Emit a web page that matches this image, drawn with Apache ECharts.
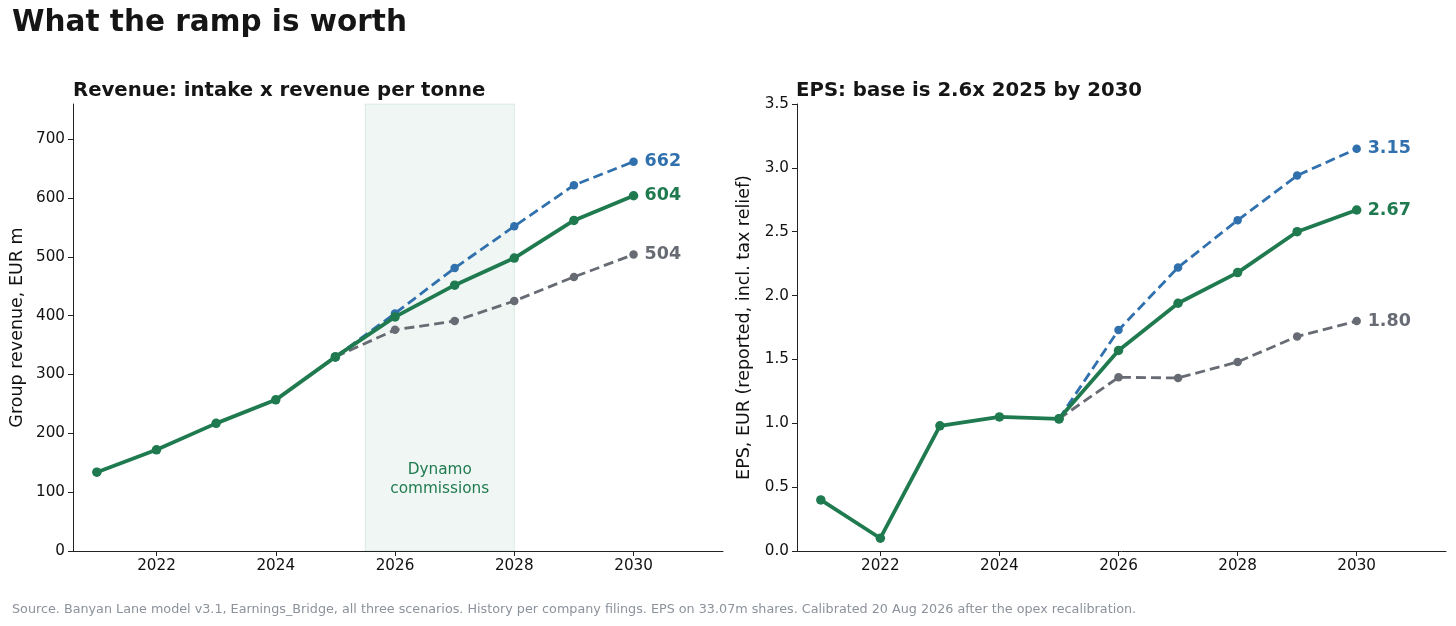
<!DOCTYPE html>
<html>
<head>
<meta charset="utf-8">
<script src="https://cdn.jsdelivr.net/npm/echarts@6/dist/echarts.min.js"></script>
<style>
  html, body { margin: 0; padding: 0; background: #fff; }
  #chart { width: 1456px; height: 626px; }
</style>
</head>
<body>
<div id="chart"></div>
<script>
// history years and scenario years
var histYears = [2021, 2022, 2023, 2024, 2025];
var fcstYears = [2025, 2026, 2027, 2028, 2029, 2030];
var yearTicks = [2022, 2024, 2026, 2028, 2030];

// revenue, EUR m
var revHist = [134, 172, 217, 257, 330];
var revBase = [330, 398, 452, 498, 562, 604];
var revBull = [330, 404, 481, 552, 622, 662];
var revBear = [330, 376, 391, 425, 466, 504];
var revTicks = [0, 100, 200, 300, 400, 500, 600, 700];

// EPS, EUR
var epsHist = [0.40, 0.10, 0.98, 1.05, 1.035];
var epsBase = [1.035, 1.57, 1.94, 2.18, 2.50, 2.67];
var epsBull = [1.035, 1.73, 2.22, 2.59, 2.94, 3.15];
var epsBear = [1.035, 1.36, 1.355, 1.48, 1.68, 1.80];
var epsTicks = [0, 0.5, 1.0, 1.5, 2.0, 2.5, 3.0, 3.5];

var rampStart = 2025.5, rampEnd = 2028;

var GREEN = '#1f7a4f', BLUE = '#2f70ad', GREY = '#676b73';
var FONT = 'DejaVu Sans';

function pairs(xs, ys) {
    return xs.map(function (x, i) { return [x, ys[i]]; });
}

function xAxis(idx) {
    return {
        type: 'value', gridIndex: idx, min: 2020.6, max: 2031.5,
        splitLine: {show: false},
        axisLine: {show: true, lineStyle: {color: '#222', width: 1}},
        axisTick: {show: true, length: 5, lineStyle: {color: '#222'}, customValues: yearTicks},
        axisLabel: {color: '#111', fontSize: 15.2, fontFamily: FONT, margin: 8, customValues: yearTicks,
            formatter: function (v) { return String(v); }}
    };
}

function yAxis(idx, max, ticks, name, fmt) {
    return {
        type: 'value', gridIndex: idx, min: 0, max: max,
        name: name, nameLocation: 'middle', nameGap: idx === 0 ? 47 : 44,
        nameTextStyle: {color: '#111', fontSize: 17.5, fontFamily: FONT},
        splitLine: {show: false},
        axisLine: {show: true, lineStyle: {color: '#222', width: 1}},
        axisTick: {show: true, length: 5, lineStyle: {color: '#222'}, customValues: ticks},
        axisLabel: {color: '#111', fontSize: 15.2, fontFamily: FONT, margin: 8, customValues: ticks, formatter: fmt}
    };
}

function line(idx, name, data, color, dashed, fmt, extra) {
    var s = {
        name: name, type: 'line', xAxisIndex: idx, yAxisIndex: idx,
        data: data, symbol: 'circle', symbolSize: dashed ? 8.5 : 9.5,
        itemStyle: {color: color},
        lineStyle: {color: color, width: dashed ? 2.8 : 3.8, type: dashed ? [10, 5] : 'solid'},
        emphasis: {disabled: true}, animation: false
    };
    if (fmt) {
        s.endLabel = {
            show: true, distance: 11, color: color, fontSize: 17.5, fontWeight: 'bold', fontFamily: FONT,
            formatter: function (p) { return fmt(p.value[1]); }
        };
    }
    if (extra) { for (var k in extra) s[k] = extra[k]; }
    return s;
}

var chart = echarts.init(document.getElementById('chart'), null, {renderer: 'canvas'});

var intFmt = function (v) { return Math.round(v).toString(); };
var decFmt = function (v) { return v.toFixed(2); };
var oneDec = function (v) { return v.toFixed(1); };

var option = {
    backgroundColor: '#fff',
    title: [
        {text: 'What the ramp is worth', left: 12, top: 8, padding: 0,
            textStyle: {fontSize: 29.5, fontWeight: 'bold', color: '#151515', fontFamily: FONT}},
        {text: 'Revenue: intake x revenue per tonne', left: 73, top: 81, padding: 0,
            textStyle: {fontSize: 19.7, fontWeight: 'bold', color: '#151515', fontFamily: FONT}},
        {text: 'EPS: base is 2.6x 2025 by 2030', left: 796, top: 81, padding: 0,
            textStyle: {fontSize: 19.7, fontWeight: 'bold', color: '#151515', fontFamily: FONT}},
        {text: 'Source. Banyan Lane model v3.1, Earnings_Bridge, all three scenarios. History per company filings. EPS on 33.07m shares. Calibrated 20 Aug 2026 after the opex recalibration.',
            left: 12, top: 603, padding: 0,
            textStyle: {fontSize: 12.75, fontWeight: 'normal', color: '#8c929b', fontFamily: FONT}}
    ],
    grid: [
        {left: 73, right: 733, top: 104, bottom: 75},
        {left: 797, right: 10, top: 104, bottom: 75}
    ],
    xAxis: [xAxis(0), xAxis(1)],
    yAxis: [
        yAxis(0, 760, revTicks, 'Group revenue, EUR m', intFmt),
        yAxis(1, 3.5, epsTicks, 'EPS, EUR (reported, incl. tax relief)', oneDec)
    ],
    series: [
        line(0, 'History', pairs(histYears, revHist), GREEN, false, null, {
            z: 2,
            markArea: {
                silent: true,
                itemStyle: {color: 'rgba(31,122,79,0.07)', borderColor: 'rgba(31,122,79,0.12)', borderWidth: 1},
                label: {show: true, position: 'insideBottom', distance: 53, color: GREEN, fontSize: 15.3,
                    fontFamily: FONT, lineHeight: 19, formatter: 'Dynamo\ncommissions'},
                data: [[{xAxis: rampStart}, {xAxis: rampEnd}]]
            }
        }),
        line(0, 'Base', pairs(fcstYears, revBase), GREEN, false, intFmt, {z: 4}),
        line(0, 'Bull', pairs(fcstYears, revBull), BLUE, true, intFmt, {z: 3}),
        line(0, 'Bear', pairs(fcstYears, revBear), GREY, true, intFmt, {z: 3}),
        line(1, 'History', pairs(histYears, epsHist), GREEN, false, null, {z: 2}),
        line(1, 'Base', pairs(fcstYears, epsBase), GREEN, false, decFmt, {z: 4}),
        line(1, 'Bull', pairs(fcstYears, epsBull), BLUE, true, decFmt, {z: 3}),
        line(1, 'Bear', pairs(fcstYears, epsBear), GREY, true, decFmt, {z: 3})
    ]
};
chart.setOption(option);
</script>
</body>
</html>
